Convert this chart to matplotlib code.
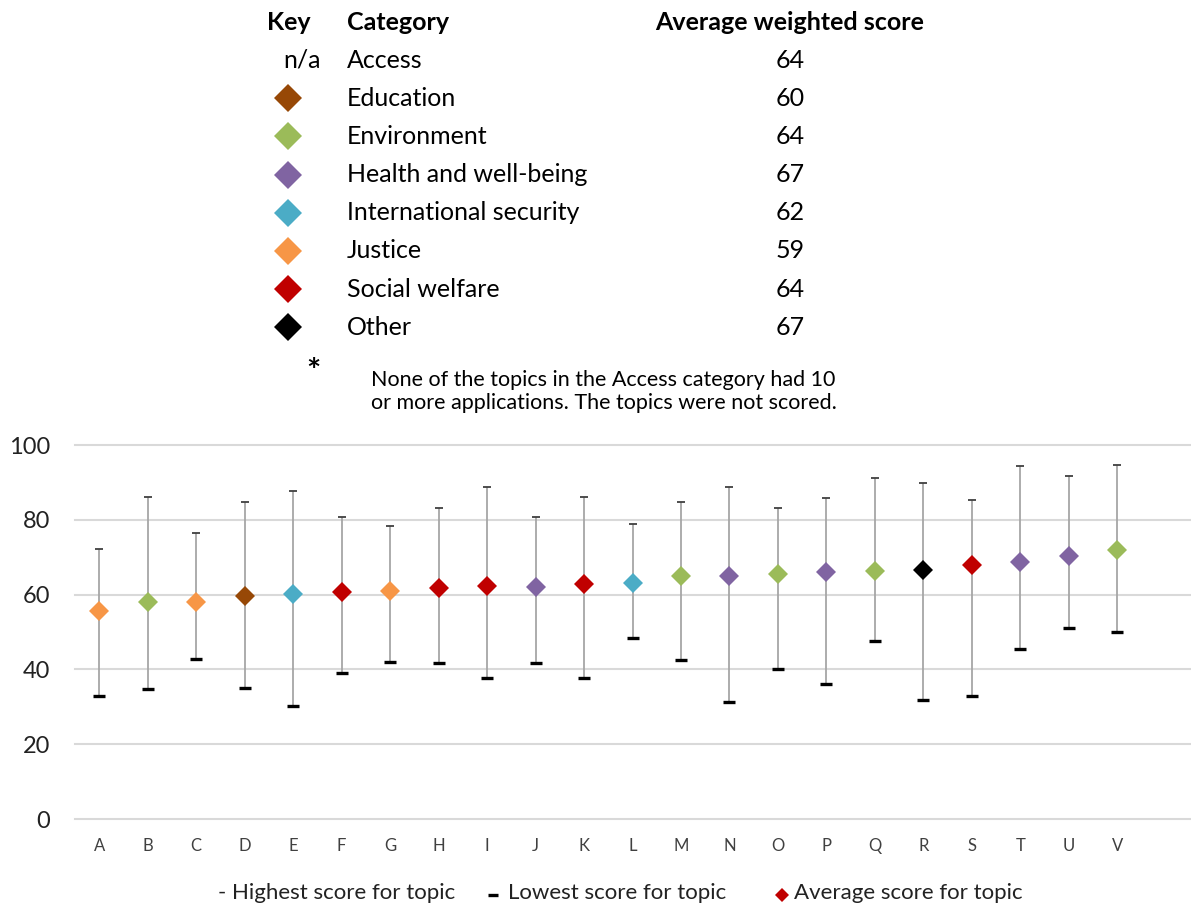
import numpy as np
import matplotlib
matplotlib.use("Agg")
import matplotlib.pyplot as plt

plt.rcParams["font.family"] = ["Lato", "DejaVu Sans"]

# ── data ─────────────────────────────────────────────────────────────────────
topics = list("ABCDEFGHIJKLMNOPQRSTUV")
topic_cat = ["Justice", "Environment", "Justice", "Education", "International security",
             "Social welfare", "Justice", "Social welfare", "Social welfare",
             "Health and well-being", "Social welfare", "International security",
             "Environment", "Health and well-being", "Environment",
             "Health and well-being", "Environment", "Other", "Social welfare",
             "Health and well-being", "Health and well-being", "Environment"]
high_score = [72.1, 86.0, 76.4, 84.8, 87.6, 80.7, 78.4, 83.1, 88.9, 80.7, 86.0,
              79.0, 84.8, 88.9, 83.2, 85.7, 91.1, 89.8, 85.4, 94.3, 91.8, 94.7]
low_score = [32.8, 34.7, 42.7, 35.0, 30.3, 39.0, 42.0, 41.7, 37.8, 41.7, 37.8,
             48.4, 42.4, 31.2, 40.2, 36.2, 47.7, 31.8, 32.8, 45.5, 51.2, 50.0]
avg_score = [55.6, 58.0, 58.1, 59.5, 60.1, 60.7, 61.0, 61.7, 62.3, 62.1, 62.9,
             63.0, 65.0, 65.0, 65.4, 66.0, 66.2, 66.6, 67.8, 68.7, 70.3, 71.9]

key_labels = ["Access", "Education", "Environment", "Health and well-being",
              "International security", "Justice", "Social welfare", "Other"]
key_scores = [64, 60, 64, 67, 62, 59, 64, 67]
cat_colors = {
    "Access": None,
    "Education": "#974806",
    "Environment": "#9BBB59",
    "Health and well-being": "#8064A2",
    "International security": "#4BACC6",
    "Justice": "#F79646",
    "Social welfare": "#C00000",
    "Other": "#000000",
}
y_ticks = [0, 20, 40, 60, 80, 100]

W, H = 1191, 909
fig = plt.figure(figsize=(W / 100, H / 100), dpi=100)

# ── main chart ───────────────────────────────────────────────────────────────
ax = fig.add_axes([75 / W, 1 - 819 / H, 1115 / W, 374 / H])
x = np.arange(len(topics))
for yt in y_ticks:
    ax.axhline(yt, color="#d9d9d9", lw=1.5, zorder=0, clip_on=False)
ax.vlines(x, low_score, high_score, color="#a6a6a6", lw=1.3, zorder=2)
ax.plot(x, high_score, ls="none", marker="_", ms=5.5, mew=1.3,
        color="#404040", zorder=3)
ax.plot(x, low_score, ls="none", marker="_", ms=8, mew=2.4,
        color="#000000", zorder=3)
for xi, a, c in zip(x, avg_score, topic_cat):
    ax.plot(xi, a, ls="none", marker="D", ms=10, mew=0,
            color=cat_colors[c], zorder=4)

ax.set_xlim(-0.5, 22.5)
ax.set_ylim(0, 100)
ax.set_xticks(x)
ax.set_xticklabels(topics, fontsize=12, color="#404040")
ax.set_yticks(y_ticks)
ax.set_yticklabels([str(v) for v in y_ticks], fontsize=17, color="#222222")
ax.tick_params(axis="both", length=0)
ax.tick_params(axis="x", pad=14)
ax.tick_params(axis="y", pad=18)
for s in ax.spines.values():
    s.set_visible(False)

# ── key table (pixel coordinates) ───────────────────────────────────────────
kx = fig.add_axes([0, 0, 1, 1])
kx.set_xlim(0, W)
kx.set_ylim(H, 0)
kx.axis("off")

fs_key = 18
kx.text(289, 22, "Key", fontsize=fs_key, fontweight="bold", ha="center", va="center")
kx.text(347, 22, "Category", fontsize=fs_key, fontweight="bold", ha="left", va="center")
kx.text(790, 22, "Average weighted score", fontsize=fs_key, fontweight="bold",
        ha="center", va="center")
row_y = 60
for lab, sc in zip(key_labels, key_scores):
    col = cat_colors[lab]
    if col is None:
        kx.text(321, row_y, "n/a", fontsize=fs_key, ha="right", va="center")
    else:
        kx.plot(288, row_y, marker="D", ms=14, mew=0, color=col)
    kx.text(347, row_y, lab, fontsize=fs_key, ha="left", va="center")
    kx.text(790, row_y, str(sc), fontsize=fs_key, ha="center", va="center")
    row_y += 38.2

kx.text(313, 372, "*", fontsize=24, fontweight="bold", ha="center", va="center")
kx.text(371, 380, "None of the topics in the Access category had 10", fontsize=15.5,
        ha="left", va="center")
kx.text(371, 403, "or more applications. The topics were not scored.", fontsize=15.5,
        ha="left", va="center")

# ── bottom legend ────────────────────────────────────────────────────────────
fs_leg = 16
kx.text(218, 893, "-", fontsize=fs_leg, ha="left", va="center", color="#222222")
kx.text(232, 893, "Highest score for topic", fontsize=fs_leg, ha="left",
        va="center", color="#222222")
kx.plot(493, 895, marker="_", ms=7, mew=2.4, color="black")
kx.text(508, 893, "Lowest score for topic", fontsize=fs_leg, ha="left",
        va="center", color="#222222")
kx.plot(782, 895, marker="D", ms=6.8, mew=0, color="#C00000")
kx.text(794, 893, "Average score for topic", fontsize=fs_leg, ha="left",
        va="center", color="#222222")

fig.savefig("out.png", dpi=100)
